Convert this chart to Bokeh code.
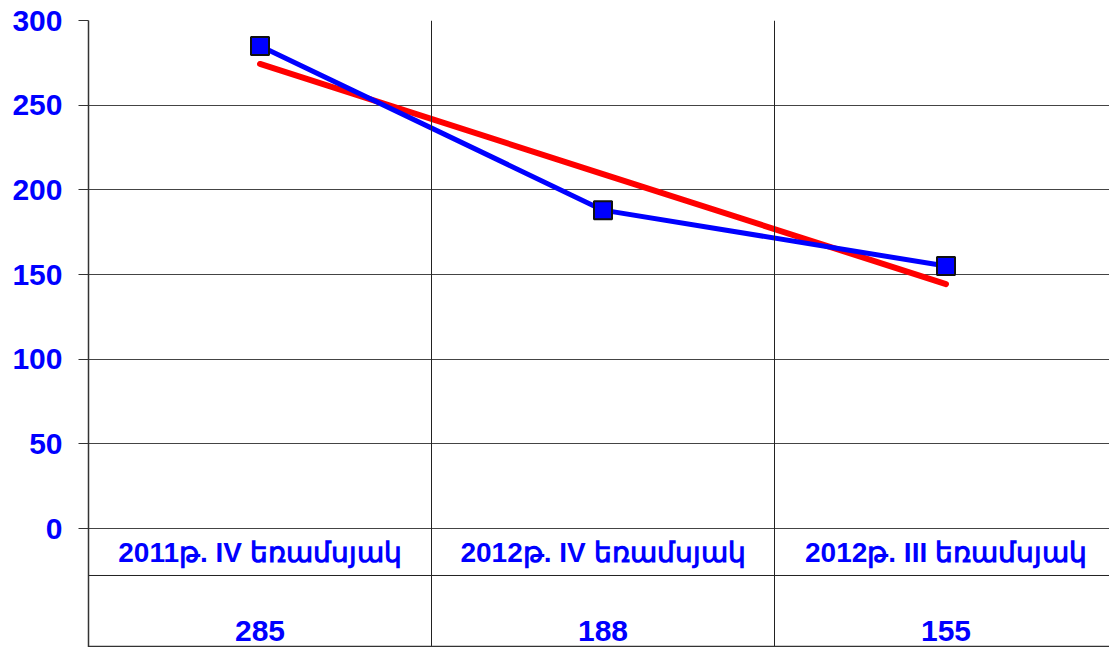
import numpy as np
from bokeh.plotting import figure
from bokeh.models import FixedTicker, Span, Range1d, ColumnDataSource
from bokeh.core.properties import value
from bokeh.embed import file_html
from bokeh.resources import INLINE

categories = ["2011թ. IV եռամսյակ", "2012թ. IV եռամսյակ", "2012թ. III եռամսյակ"]
values = [285, 188, 155]
y_ticks = [0, 50, 100, 150, 200, 250, 300]

xpos = np.arange(len(categories)) + 0.5
slope, intercept = np.polyfit(np.arange(len(values)), values, 1)
trend = intercept + slope * np.arange(len(values))

BLUE = "#0000FF"
FONT = "Liberation Sans"

# frame: left 88px, top 20px; 343 px per category, 508 px for 300 units
p = figure(width=1109, height=647, output_backend="svg", toolbar_location=None,
           x_range=Range1d(0, 1021 / 343), y_range=Range1d(-119 / (508 / 300), 300),
           min_border_left=88, min_border_top=20, min_border_right=0, min_border_bottom=0,
           x_axis_location=None)
p.outline_line_color = None
p.background_fill_color = "white"
p.border_fill_color = "white"

p.xgrid.visible = False
p.ygrid.ticker = FixedTicker(ticks=y_ticks)
p.ygrid.grid_line_color = "#444444"
p.ygrid.grid_line_width = 1

ax = p.yaxis[0]
ax.ticker = FixedTicker(ticks=y_ticks)
ax.axis_line_color = "#333333"
ax.axis_line_width = 1.5
ax.major_tick_line_color = "#333333"
ax.major_tick_out = 10
ax.major_tick_in = 0
ax.minor_tick_line_color = None
ax.major_label_text_color = BLUE
ax.major_label_text_font = FONT
ax.major_label_text_font_style = "bold"
ax.major_label_text_font_size = "30px"
ax.major_label_standoff = 16

# category separators and table rows
for xs in [1, 2]:
    p.add_layout(Span(location=xs, dimension="height", line_color="#222222", line_width=1))
p.add_layout(Span(location=-27.75, dimension="width", line_color="#222222", line_width=1))
p.add_layout(Span(location=-69.9, dimension="width", line_color="#333333", line_width=2))

# trend line
p.line(xpos, trend, line_color="#FF0000", line_width=6, line_cap="round")
# data line
src = ColumnDataSource(dict(x=xpos, y=values))
p.line("x", "y", source=src, line_color=BLUE, line_width=5)
p.scatter("x", "y", source=src, marker="square", size=18, fill_color=BLUE,
          line_color="#111111", line_width=2)

# table texts
p.text(xpos, [-14.2] * 3, text=categories, text_align="center", text_baseline="middle",
       text_color=BLUE, text_font=value(FONT), text_font_style="bold", text_font_size="28px")
p.text(xpos, [-60.5] * 3, text=[str(v) for v in values], text_align="center",
       text_baseline="middle", text_color=BLUE, text_font=value(FONT),
       text_font_style="bold", text_font_size="30px")

open("out.html", "w").write(file_html(p, INLINE))
